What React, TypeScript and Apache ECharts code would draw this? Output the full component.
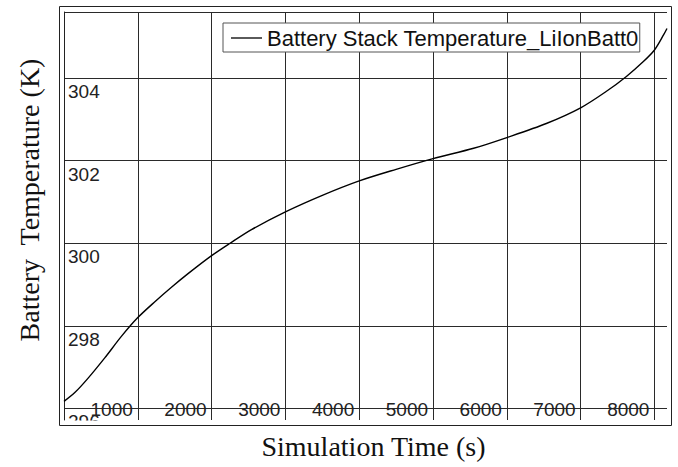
import React, { useEffect, useRef } from "react";
import * as echarts from "echarts";

const timeS = [0, 150, 330, 555, 780, 1000, 1235, 1460, 1685, 2000, 2250, 2540, 3000, 3500, 4000, 4500, 5000, 5550, 6000, 6535, 7000, 7350, 7620, 7850, 8000, 8125, 8170];
const tempK = [296.17, 296.39, 296.74, 297.23, 297.75, 298.2, 298.59, 298.94, 299.27, 299.7, 300.0, 300.33, 300.76, 301.16, 301.51, 301.79, 302.05, 302.3, 302.56, 302.9, 303.28, 303.68, 304.04, 304.4, 304.68, 305.05, 305.2];
const yTicks = [296, 298, 300, 302, 304, 305.6];
const seriesName = "Battery Stack Temperature_LiIonBatt0";
const xTitle = "Simulation Time (s)";
const yTitle = "Battery  Temperature (K)";

export default function App() {
  const ref = useRef<HTMLDivElement>(null);
  useEffect(() => {
    if (!ref.current) return;
    const chart = echarts.init(ref.current, null, { renderer: "svg" });
    const sans = "Liberation Sans";
    const serif = "Liberation Serif";
    chart.setOption({
      animation: false,
      backgroundColor: "#fff",
      grid: { left: 64, top: 12, width: 603, height: 408, containLabel: false },
      legend: {
        left: 223,
        top: 23,
        padding: [4, 1, 3, 8],
        itemWidth: 31,
        itemHeight: 14,
        backgroundColor: "#fff",
        borderColor: "#555",
        borderWidth: 1,
        borderRadius: 0,
        textStyle: { fontFamily: sans, fontSize: 22, color: "#111", lineHeight: 21 },
        data: [{ name: seriesName, icon: "path://M0 0 H31 V1.3 H0 Z", itemStyle: { color: "#000" } }],
      },
      xAxis: {
        type: "value",
        min: 0,
        max: 8170,
        interval: 1000,
        name: xTitle,
        nameLocation: "middle",
        nameGap: 12,
        nameTextStyle: { fontFamily: serif, fontSize: 28, color: "#111", verticalAlign: "top", padding: [0, 0, 0, 16] },
        axisLine: { show: false },
        axisTick: { show: false },
        splitLine: { show: true, showMaxLine: false, lineStyle: { color: "#2a2a2a", width: 1 } },
        axisLabel: {
          inside: true,
          margin: 11,
          align: "right",
          verticalAlign: "middle",
          padding: [0, 5, 0, 0],
          fontFamily: sans,
          fontSize: 19,
          color: "#222",
          showMinLabel: false,
          showMaxLabel: false,
          formatter: (v: number) => (v === 0 || v % 1000 !== 0 ? "" : String(v)),
        },
      },
      yAxis: {
        type: "value",
        min: 295.72,
        max: 305.6,
        name: yTitle,
        nameLocation: "middle",
        nameGap: 21,
        nameTextStyle: { fontFamily: serif, fontSize: 28, color: "#111", padding: [0, 0, 0, 32] },
        axisLine: { show: true, lineStyle: { color: "#222", width: 1 } },
        axisTick: { show: false, customValues: yTicks },
        splitLine: { show: true, lineStyle: { color: "#2a2a2a", width: 1 } },
        axisLabel: {
          inside: true,
          margin: 4,
          align: "left",
          verticalAlign: "top",
          padding: [4, 0, 0, 0],
          fontFamily: sans,
          fontSize: 19,
          color: "#222",
          customValues: yTicks,
          formatter: (v: number) => (Math.abs(v - Math.round(v)) > 1e-6 ? "" : String(Math.round(v))),
        },
      },
      series: [
        {
          name: seriesName,
          type: "line",
          data: timeS.map((t, i) => [t, tempK[i]]),
          symbol: "none",
          smooth: 0.3,
          lineStyle: { color: "#000", width: 1.4 },
          itemStyle: { color: "#000" },
        },
      ],
      graphic: [
        {
          type: "rect",
          z: 100,
          silent: true,
          shape: { x: 65, y: 420.5, width: 60, height: 18 },
          style: { fill: "#fff" },
        },
        {
          type: "rect",
          z: 101,
          silent: true,
          shape: { x: 59.5, y: 6.5, width: 612, height: 419 },
          style: { fill: "none", stroke: "#222", lineWidth: 1 },
        },
      ],
    });
    return () => chart.dispose();
  }, []);
  return <div ref={ref} style={{ position: "absolute", left: 0, top: 0, width: 678, height: 467 }} />;
}
